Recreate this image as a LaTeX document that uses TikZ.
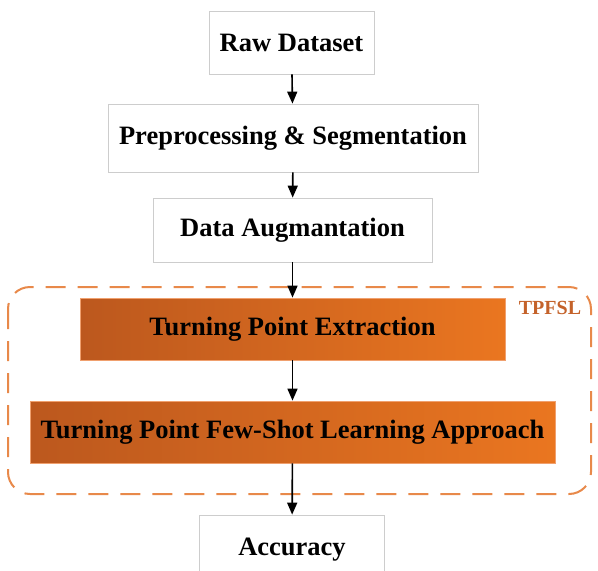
\documentclass[tikz,border=0pt]{standalone}
\usepackage{fontspec}
\setmainfont{Liberation Serif}
\usetikzlibrary{arrows.meta}

\definecolor{boxgray}{RGB}{205,205,205}
\definecolor{tpdark}{RGB}{188,88,30}
\definecolor{tplight}{RGB}{234,118,32}
\definecolor{tpedge}{RGB}{240,160,110}
\definecolor{tpdash}{RGB}{232,137,74}
\definecolor{tplabel}{RGB}{196,98,42}

\tikzset{
  plainbox/.style={draw=boxgray, line width=0.8pt, fill=white,
    font=\fontsize{26.5}{29}\selectfont\bfseries, inner sep=0pt},
  tpbox/.style={draw=tpedge, line width=0.8pt, left color=tpdark, right color=tplight,
    font=\fontsize{26.5}{29}\selectfont\bfseries, inner sep=0pt},
  flow/.style={-{Triangle[length=12pt,width=10pt]}, line width=1.6pt, black}
}

\begin{document}
\begin{tikzpicture}[x=1pt, y=-1pt]
    \useasboundingbox (0,0) rectangle (598,571);

    % TPFSL frame
    \draw[tpdash, line width=2pt, dash pattern=on 20pt off 12pt, rounded corners=22pt]
    (8,287) rectangle (591,494);
    \node[text=tplabel, font=\fontsize{20}{22}\selectfont\bfseries] (tpfsl) at (550,308) {TPFSL};

    \node[plainbox, minimum width=165pt, minimum height=63pt] (raw) at (291.5,42.5) {Raw Dataset};
    \node[plainbox, minimum width=370pt, minimum height=68pt] (prep) at (293,138) {Preprocessing \& Segmentation};
    \node[plainbox, minimum width=279pt, minimum height=64pt] (aug) at (292.5,230) {Data Augmantation};

    \node[tpbox, minimum width=425pt, minimum height=62pt] (tpe) at (292.5,329) {Turning Point Extraction};
    \node[tpbox, minimum width=525pt, minimum height=62pt] (tpfs) at (292.5,432) {Turning Point Few-Shot Learning Approach};

    \node[plainbox, minimum width=185pt, minimum height=70pt] (acc) at (292,550) {Accuracy};

    \draw[flow] (raw) -- (prep);
    \draw[flow] (prep) -- (aug);
    \draw[flow] (aug) -- (tpe);
    \draw[flow] (tpe) -- (tpfs);
    \draw[flow] (tpfs) -- (acc);
\end{tikzpicture}
\end{document}
